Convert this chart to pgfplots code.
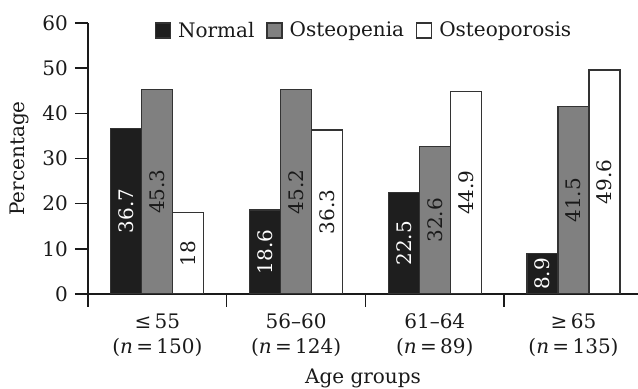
\documentclass[border=0pt]{standalone}
\usepackage{pgfplots}
\pgfplotsset{compat=1.18}
\usepackage{fontspec}
\setmainfont{DejaVu Serif}
\definecolor{barblack}{HTML}{1E1E1E}
\definecolor{bargray}{HTML}{808080}
\definecolor{edge}{HTML}{333333}
\definecolor{txt}{HTML}{1A1A1A}
\begin{document}
\begin{tikzpicture}
\begin{axis}[
  scale only axis,
  width=275pt, height=135.5pt,
  xmin=0, xmax=3.965, ymin=0, ymax=60,
  axis x line*=bottom, axis y line*=left,
  axis line style={line width=0.7pt, draw=txt},
  ybar=0pt, bar width=15.5pt,
  xtick={0,1,2,3},
  xticklabels={{≤\,55\\(\textit{n}\,=\,150)},{56–60\\(\textit{n}\,=\,124)},{61–64\\(\textit{n}\,=\,89)},{≥\,65\\(\textit{n}\,=\,135)}},
  xticklabel style={xshift=34.68pt, align=center, font=\fontsize{10}{12.5}\selectfont, text=txt},
  ytick={0,10,...,60},
  yticklabel style={font=\fontsize{10}{12}\selectfont, text=txt},
  /pgf/number format/assume math mode=true,
  tick align=outside, major tick length=6.5pt,
  tick style={line width=0.7pt, draw=txt},
  ylabel={Percentage},
  ylabel style={at={(axis description cs:-0.125,0.5)}, anchor=center, font=\fontsize{10}{12}\selectfont, text=txt},
  xlabel={Age groups},
  xlabel style={at={(axis description cs:0.5,-0.31)}, anchor=center, font=\fontsize{10}{12}\selectfont, text=txt},
  legend style={draw=none, fill=none, legend columns=-1, at={(axis description cs:0.11,1.035)}, anchor=north west, font=\fontsize{10}{12}\selectfont, text=txt,
    /tikz/every even column/.append style={column sep=4pt},
    /tikz/every odd column/.append style={column sep=1.5pt}},
  legend image code/.code={\draw[#1, line width=0.6pt] (0pt,-3.5pt) rectangle (7.5pt,4pt);},
  visualization depends on=rawy \as \rawy,
  nodes near coords,
  nodes near coords align=center,
  every node near coord/.append style={yshift=-\rawy*1.129167pt, rotate=90, anchor=center, font=\fontsize{10}{12}\selectfont},
]
\addplot[fill=barblack, draw=edge, line width=0.6pt, every node near coord/.append style={text=white}]
  coordinates {(0.5,36.7) (1.5,18.6) (2.5,22.5) (3.5,8.9)};
\addplot[fill=bargray, draw=edge, line width=0.6pt, every node near coord/.append style={text=txt}]
  coordinates {(0.5,45.3) (1.5,45.2) (2.5,32.6) (3.5,41.5)};
\addplot[fill=white, draw=edge, line width=0.6pt, every node near coord/.append style={text=txt}]
  coordinates {(0.5,18) (1.5,36.3) (2.5,44.9) (3.5,49.6)};
\legend{Normal, Osteopenia, Osteoporosis}
\end{axis}
\pgfresetboundingbox
\path ([shift={(-44pt,-47.5pt)}]current axis.south west) rectangle ([shift={(275pt,147pt)}]current axis.south west);
\end{tikzpicture}
\end{document}
